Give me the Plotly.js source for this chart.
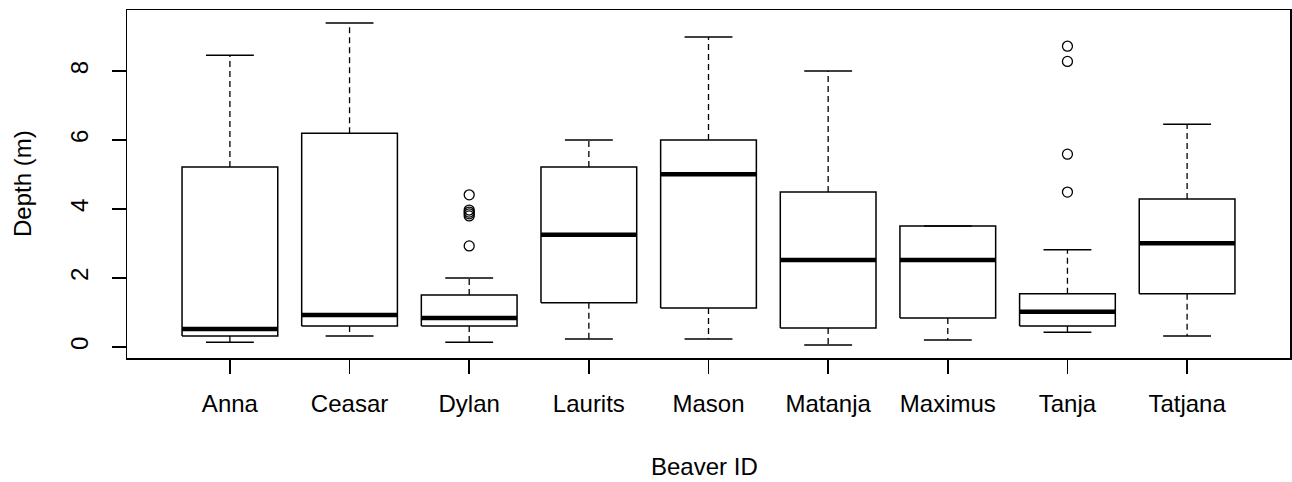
<!DOCTYPE html>
<html>
<head>
<meta charset="utf-8">
<script src="https://cdn.plot.ly/plotly-3.0.1.min.js"></script>
<style>
html,body{margin:0;padding:0;background:#fff;}
#chart{width:1292px;height:482px;}
</style>
</head>
<body>
<div id="chart"></div>
<script>
var beaverIds = ["Anna","Ceasar","Dylan","Laurits","Mason","Matanja","Maximus","Tanja","Tatjana"];
var lowerWhisker = [0.14, 0.32, 0.14, 0.23, 0.23, 0.06, 0.20, 0.43, 0.32];
var q1Values     = [0.32, 0.61, 0.61, 1.28, 1.13, 0.55, 0.84, 0.61, 1.54];
var medianValues = [0.52, 0.93, 0.84, 3.25, 5.01, 2.52, 2.52, 1.02, 3.01];
var q3Values     = [5.22, 6.20, 1.51, 5.22, 6.00, 4.49, 3.51, 1.54, 4.29];
var upperWhisker = [8.46, 9.39, 2.00, 6.00, 8.99, 8.00, 3.51, 2.82, 6.46];
var outlierIds   = ["Dylan","Dylan","Dylan","Dylan","Dylan","Dylan","Tanja","Tanja","Tanja","Tanja"];
var outlierDepth = [4.41, 3.97, 3.91, 3.86, 3.80, 2.93, 8.72, 8.28, 5.59, 4.49];
var yTicks = [0, 2, 4, 6, 8];

var HALF = 0.4, CAP = 0.2;
var pos = beaverIds.map(function(d,i){return i+1;});

function seg(build){
  var xs=[], ys=[];
  pos.forEach(function(p,i){
    var s = build(p,i);
    if(!s) return;
    xs = xs.concat(s[0], [null]); ys = ys.concat(s[1], [null]);
  });
  return {x:xs, y:ys};
}

var boxes = seg(function(p,i){
  return [[p-HALF,p+HALF,p+HALF,p-HALF,p-HALF],[q1Values[i],q1Values[i],q3Values[i],q3Values[i],q1Values[i]]];
});
var medians = seg(function(p,i){
  return [[p-HALF,p+HALF],[medianValues[i],medianValues[i]]];
});
var whiskers = seg(function(p,i){
  return [[p,p,null,p,p],[q3Values[i],upperWhisker[i],null,q1Values[i],lowerWhisker[i]]];
});
var caps = seg(function(p,i){
  return [[p-CAP,p+CAP,null,p-CAP,p+CAP],[upperWhisker[i],upperWhisker[i],null,lowerWhisker[i],lowerWhisker[i]]];
});
var outX = outlierIds.map(function(id){return beaverIds.indexOf(id)+1;});

var traces = [
  {type:'scatter', mode:'lines', x:whiskers.x, y:whiskers.y, line:{color:'#000', width:1.3, dash:'6px,4px'}, hoverinfo:'skip'},
  {type:'scatter', mode:'lines', x:caps.x, y:caps.y, line:{color:'#000', width:1.5}, hoverinfo:'skip'},
  {type:'scatter', mode:'lines', x:boxes.x, y:boxes.y, line:{color:'#000', width:1.5}, fill:'none', hoverinfo:'skip'},
  {type:'scatter', mode:'lines', x:medians.x, y:medians.y, line:{color:'#000', width:4.5}, hoverinfo:'skip'},
  {type:'scatter', mode:'markers', x:outX, y:outlierDepth, marker:{symbol:'circle-open', size:10, color:'#000', line:{width:1.3, color:'#000'}}}
];

var fontFam = 'Liberation Sans, Arial, sans-serif';
var layout = {
  width:1292, height:482,
  margin:{l:127, r:2, t:10, b:124},
  showlegend:false,
  paper_bgcolor:'#fff', plot_bgcolor:'#fff',
  font:{family:fontFam, size:24, color:'#000'},
  xaxis:{
    range:[0.14, 9.86], tickvals:pos, ticktext:beaverIds,
    showgrid:false, zeroline:false, showline:true, mirror:true, linecolor:'#000', linewidth:1.5,
    ticks:'outside', ticklen:14, tickwidth:1.5, tickcolor:'#000',
    ticklabelstandoff:10, tickfont:{family:fontFam, size:24, color:'#000'}
  },
  yaxis:{
    range:[-0.32, 9.77], tickvals:yTicks, ticktext:yTicks.map(String),
    showgrid:false, zeroline:false, showline:true, mirror:true, linecolor:'#000', linewidth:1.5,
    ticks:'outside', ticklen:14, tickwidth:1.5, tickcolor:'#000', tickangle:-90,
    ticklabelstandoff:14, tickfont:{family:fontFam, size:24, color:'#000'}
  },
  annotations:[
    {text:'Beaver ID', xref:'paper', yref:'paper', x:(704-127)/1163, y:-(467-358)/348, xanchor:'center', yanchor:'middle', showarrow:false, font:{family:fontFam, size:24, color:'#000'}},
    {text:'Depth (m)', xref:'paper', yref:'paper', x:-(127-22)/1163, y:(358-184)/348, xanchor:'center', yanchor:'middle', textangle:-90, showarrow:false, font:{family:fontFam, size:24, color:'#000'}}
  ]
};
Plotly.newPlot('chart', traces, layout, {displayModeBar:false, staticPlot:true});
</script>
</body>
</html>
